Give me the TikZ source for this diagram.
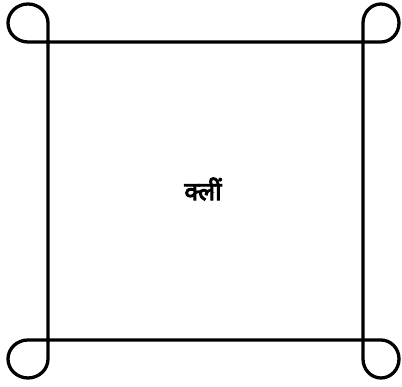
\documentclass[tikz,border=0pt]{standalone}
\usepackage{fontspec}
\newfontfamily\devafont[Script=Devanagari, FakeBold=4]{Noto Sans}
\usepackage{tikz}
\usetikzlibrary{positioning}

\begin{document}
\begin{tikzpicture}[
  x=1pt, y=1pt,
  frame/.style={draw=black, line width=3.3pt, line join=round, line cap=round},
  bijatext/.style={font=\devafont\fontsize{25}{30}\selectfont, inner sep=0pt},
]
\useasboundingbox (0,0) rectangle (402,387);
% square with a loop at each corner
\draw[frame] (48,364) arc[start angle=0, end angle=270, x radius=20, y radius=19]
  -- (381,345) arc[start angle=270, end angle=540, x radius=18, y radius=19]
  -- (363,28) arc[start angle=180, end angle=450, x radius=18, y radius=19]
  -- (28,47) arc[start angle=90, end angle=360, x radius=20, y radius=19]
  -- cycle;
\node[bijatext] (bija) at (203,198) {क्लीं};
\end{tikzpicture}
\end{document}
